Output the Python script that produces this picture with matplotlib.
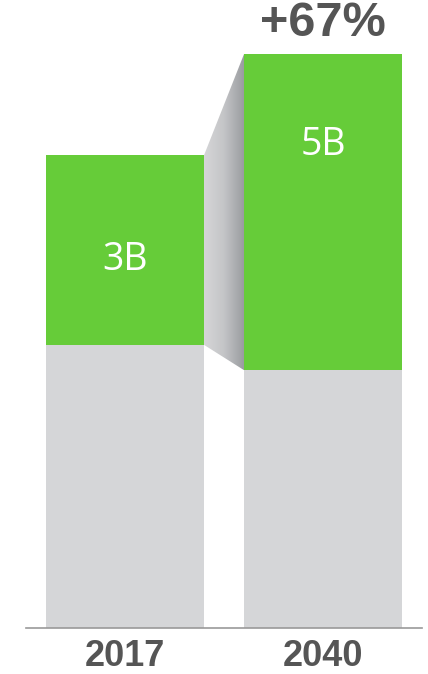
import matplotlib
matplotlib.use("Agg")
import matplotlib.pyplot as plt
import numpy as np
from matplotlib.patches import Polygon
from matplotlib.colors import LinearSegmentedColormap

years = ["2017", "2040"]
base_values = [4.48, 4.08]
green_values = [3, 5]
green_labels = ["3B", "5B"]
growth_label = "+67%"

GREEN = "#66CC39"
GRAY = "#D5D6D8"
DARK = "#555555"
label_drop = [1.66, 1.43]   # label position below top of green segment (style)

fig = plt.figure(figsize=(4.28, 6.74), dpi=100)
ax = fig.add_axes([26/428, 46/674, 396/428, 628/674])
x = np.arange(len(years))
width = 0.798
ax.bar(x, base_values, width=width, color=GRAY, zorder=2)
ax.bar(x, green_values, width=width, bottom=base_values, color=GREEN, zorder=2)

ax.set_xlim(-0.5, 1.5)
ax.set_ylim(0, 628/63.2)

# connector gradient
tops = [b + g for b, g in zip(base_values, green_values)]
x0 = x[0] + width/2
x1 = x[1] - width/2
poly = Polygon([(x0, base_values[0]), (x0, tops[0]), (x1, tops[1]), (x1, base_values[1])],
               closed=True, facecolor="none", edgecolor="none")
ax.add_patch(poly)
cmap = LinearSegmentedColormap.from_list("g", ["#D6D6D8", "#C4C5C7", "#9A9CA0"])
grad = np.linspace(0, 1, 256).reshape(1, -1)
im = ax.imshow(grad, cmap=cmap, extent=[x0, x1, min(base_values), max(tops)],
               aspect="auto", zorder=1, interpolation="bilinear")
im.set_clip_path(poly)

for i in range(len(years)):
    ax.text(x[i], tops[i] - label_drop[i], green_labels[i], ha="center", va="center",
            color="white", fontsize=27, family="Open Sans", zorder=3)

ax.annotate(growth_label, xy=(x[1], tops[1]), xytext=(0, 22), textcoords="offset points",
            ha="center", va="center", fontsize=35, fontweight="bold",
            family="Liberation Sans", color=DARK)

ax.set_xticks(x)
ax.set_xticklabels(years, fontsize=26, fontweight="bold", family="Liberation Sans", color=DARK)
ax.tick_params(axis="x", length=0, pad=8)
ax.set_yticks([])
for s in ["top", "left", "right"]:
    ax.spines[s].set_visible(False)
ax.spines["bottom"].set_color("#999999")
ax.spines["bottom"].set_linewidth(1.2)
ax.set_facecolor("none")

fig.savefig("out.png", dpi=100)
